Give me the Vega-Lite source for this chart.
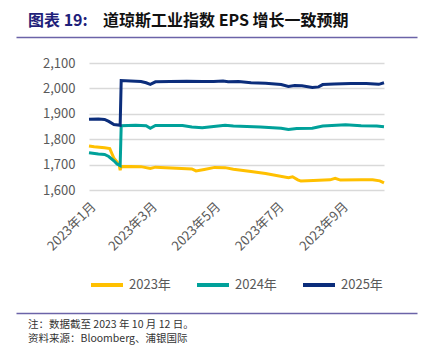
{
  "$schema": "https://vega.github.io/schema/vega-lite/v6.json",
  "padding": {"left": 28, "top": 5, "right": 5, "bottom": 0},
  "spacing": 20,
  "resolve": {"legend": {"color": "independent"}},
  "config": {
    "font": "Noto Sans CJK SC",
    "view": {"stroke": null},
    "axis": {"labelColor": "#595959", "labelFontSize": 13, "labelFont": "Noto Sans CJK SC"},
    "legend": {"labelColor": "#595959", "labelFontSize": 13, "labelFont": "Noto Sans CJK SC"}
  },
  "vconcat": [
    {
      "width": 295,
      "height": 32,
      "data": {"values": [{"x0": 0, "a": "图表 19:", "b": "道琼斯工业指数 EPS 增长一致预期"}]},
      "encoding": {
        "x": {"field": "x0", "type": "quantitative", "scale": {"domain": [0, 1], "range": [-73, 328]},
          "axis": {"orient": "bottom", "domain": true, "domainColor": "#6B63A8", "domainWidth": 1.5, "ticks": false, "labels": false, "grid": false, "title": null}}
      },
      "layer": [
        {"mark": {"type": "text", "align": "left", "baseline": "middle", "dx": 12, "fontSize": 16, "fontWeight": "bold", "color": "#1F1F7A"},
         "encoding": {"text": {"field": "a"}}},
        {"mark": {"type": "text", "align": "left", "baseline": "middle", "dx": 87, "fontSize": 16, "fontWeight": "bold", "color": "#111111"},
         "encoding": {"text": {"field": "b"}}}
      ]
    },
    {
      "width": 295,
      "height": 127,
      "data": {
        "format": {"parse": {"d": "date:'%Y-%m-%d'"}},
        "values": [
          {"d": "2023-01-01", "s": "2023年", "v": 1773},
          {"d": "2023-01-06", "s": "2023年", "v": 1770},
          {"d": "2023-01-16", "s": "2023年", "v": 1766},
          {"d": "2023-01-21", "s": "2023年", "v": 1763},
          {"d": "2023-01-25", "s": "2023年", "v": 1725},
          {"d": "2023-01-28", "s": "2023年", "v": 1710},
          {"d": "2023-01-30", "s": "2023年", "v": 1700},
          {"d": "2023-01-31", "s": "2023年", "v": 1678},
          {"d": "2023-02-01", "s": "2023年", "v": 1693},
          {"d": "2023-02-20", "s": "2023年", "v": 1692},
          {"d": "2023-03-01", "s": "2023年", "v": 1685},
          {"d": "2023-03-06", "s": "2023年", "v": 1690},
          {"d": "2023-04-10", "s": "2023年", "v": 1683},
          {"d": "2023-04-14", "s": "2023年", "v": 1675},
          {"d": "2023-04-22", "s": "2023年", "v": 1681},
          {"d": "2023-05-02", "s": "2023年", "v": 1689},
          {"d": "2023-05-12", "s": "2023年", "v": 1688},
          {"d": "2023-05-20", "s": "2023年", "v": 1682},
          {"d": "2023-06-06", "s": "2023年", "v": 1673},
          {"d": "2023-06-20", "s": "2023年", "v": 1665},
          {"d": "2023-07-12", "s": "2023年", "v": 1648},
          {"d": "2023-07-16", "s": "2023年", "v": 1652},
          {"d": "2023-07-21", "s": "2023年", "v": 1640},
          {"d": "2023-07-24", "s": "2023年", "v": 1635},
          {"d": "2023-08-05", "s": "2023年", "v": 1637},
          {"d": "2023-08-21", "s": "2023年", "v": 1640},
          {"d": "2023-08-26", "s": "2023年", "v": 1646},
          {"d": "2023-08-31", "s": "2023年", "v": 1639},
          {"d": "2023-09-20", "s": "2023年", "v": 1640},
          {"d": "2023-10-01", "s": "2023年", "v": 1640},
          {"d": "2023-10-08", "s": "2023年", "v": 1636},
          {"d": "2023-10-12", "s": "2023年", "v": 1628},

          {"d": "2023-01-01", "s": "2024年", "v": 1747},
          {"d": "2023-01-10", "s": "2024年", "v": 1742},
          {"d": "2023-01-16", "s": "2024年", "v": 1740},
          {"d": "2023-01-20", "s": "2024年", "v": 1732},
          {"d": "2023-01-25", "s": "2024年", "v": 1715},
          {"d": "2023-01-28", "s": "2024年", "v": 1702},
          {"d": "2023-01-31", "s": "2024年", "v": 1696},
          {"d": "2023-02-01", "s": "2024年", "v": 1853},
          {"d": "2023-02-15", "s": "2024年", "v": 1855},
          {"d": "2023-02-25", "s": "2024年", "v": 1853},
          {"d": "2023-03-01", "s": "2024年", "v": 1843},
          {"d": "2023-03-06", "s": "2024年", "v": 1854},
          {"d": "2023-04-01", "s": "2024年", "v": 1854},
          {"d": "2023-04-10", "s": "2024年", "v": 1848},
          {"d": "2023-04-20", "s": "2024年", "v": 1845},
          {"d": "2023-05-01", "s": "2024年", "v": 1850},
          {"d": "2023-05-12", "s": "2024年", "v": 1855},
          {"d": "2023-05-20", "s": "2024年", "v": 1852},
          {"d": "2023-06-15", "s": "2024年", "v": 1848},
          {"d": "2023-07-05", "s": "2024年", "v": 1843},
          {"d": "2023-07-12", "s": "2024年", "v": 1838},
          {"d": "2023-07-20", "s": "2024年", "v": 1842},
          {"d": "2023-08-04", "s": "2024年", "v": 1843},
          {"d": "2023-08-14", "s": "2024年", "v": 1852},
          {"d": "2023-09-05", "s": "2024年", "v": 1857},
          {"d": "2023-09-20", "s": "2024年", "v": 1853},
          {"d": "2023-10-05", "s": "2024年", "v": 1852},
          {"d": "2023-10-12", "s": "2024年", "v": 1849},

          {"d": "2023-01-01", "s": "2025年", "v": 1879},
          {"d": "2023-01-10", "s": "2025年", "v": 1880},
          {"d": "2023-01-16", "s": "2025年", "v": 1878},
          {"d": "2023-01-20", "s": "2025年", "v": 1870},
          {"d": "2023-01-25", "s": "2025年", "v": 1858},
          {"d": "2023-01-31", "s": "2025年", "v": 1855},
          {"d": "2023-02-01", "s": "2025年", "v": 2031},
          {"d": "2023-02-10", "s": "2025年", "v": 2029},
          {"d": "2023-02-20", "s": "2025年", "v": 2027},
          {"d": "2023-02-25", "s": "2025年", "v": 2022},
          {"d": "2023-03-01", "s": "2025年", "v": 2016},
          {"d": "2023-03-06", "s": "2025年", "v": 2026},
          {"d": "2023-03-20", "s": "2025年", "v": 2027},
          {"d": "2023-04-05", "s": "2025年", "v": 2028},
          {"d": "2023-04-20", "s": "2025年", "v": 2027},
          {"d": "2023-05-01", "s": "2025年", "v": 2027},
          {"d": "2023-05-10", "s": "2025年", "v": 2029},
          {"d": "2023-05-15", "s": "2025年", "v": 2026},
          {"d": "2023-05-25", "s": "2025年", "v": 2027},
          {"d": "2023-06-06", "s": "2025年", "v": 2022},
          {"d": "2023-06-20", "s": "2025年", "v": 2020},
          {"d": "2023-07-05", "s": "2025年", "v": 2015},
          {"d": "2023-07-12", "s": "2025年", "v": 2008},
          {"d": "2023-07-18", "s": "2025年", "v": 2011},
          {"d": "2023-07-25", "s": "2025年", "v": 2010},
          {"d": "2023-08-04", "s": "2025年", "v": 2004},
          {"d": "2023-08-10", "s": "2025年", "v": 2006},
          {"d": "2023-08-14", "s": "2025年", "v": 2015},
          {"d": "2023-08-25", "s": "2025年", "v": 2017},
          {"d": "2023-09-10", "s": "2025年", "v": 2019},
          {"d": "2023-09-25", "s": "2025年", "v": 2019},
          {"d": "2023-10-03", "s": "2025年", "v": 2017},
          {"d": "2023-10-07", "s": "2025年", "v": 2016},
          {"d": "2023-10-12", "s": "2025年", "v": 2022}
        ]
      },
      "mark": {"type": "line", "strokeWidth": 3},
      "encoding": {
        "x": {"field": "d", "type": "temporal",
          "scale": {"domain": [{"year": 2023, "month": 1, "date": 1}, {"year": 2023, "month": 10, "date": 12}]},
          "axis": {"values": [{"year": 2023, "month": 1, "date": 1}, {"year": 2023, "month": 3, "date": 1}, {"year": 2023, "month": 5, "date": 1}, {"year": 2023, "month": 7, "date": 1}, {"year": 2023, "month": 9, "date": 1}],
            "format": "%Y年%-m月", "labelAngle": -45, "grid": false, "domain": false, "ticks": false, "labelPadding": 10, "title": null}},
        "y": {"field": "v", "type": "quantitative",
          "scale": {"domain": [1600, 2100], "zero": false, "nice": false},
          "axis": {"values": [1600, 1700, 1800, 1900, 2000, 2100], "format": ",.0f", "grid": true, "gridColor": "#D9D9D9", "gridWidth": 1.5,
            "domain": false, "ticks": false, "labelPadding": 14, "title": null}},
        "color": {"field": "s", "type": "nominal",
          "scale": {"domain": ["2023年", "2024年", "2025年"], "range": ["#FFC000", "#00A19A", "#0B2D7B"]},
          "legend": {"orient": "bottom", "direction": "horizontal", "title": null, "symbolType": "stroke", "symbolSize": 1024, "symbolStrokeWidth": 4, "columnPadding": 18, "labelOffset": 4, "offset": 13}}
      }
    },
    {
      "width": 295,
      "height": 38,
      "data": {"values": [{"x0": 0, "i": 1, "t": "注：数据截至 2023 年 10 月 12 日。"}, {"x0": 0, "i": 2, "t": "资料来源：Bloomberg、浦银国际"}]},
      "mark": {"type": "text", "align": "left", "baseline": "middle", "dx": 12, "fontSize": 10.5, "color": "#333333"},
      "encoding": {
        "x": {"field": "x0", "type": "quantitative", "scale": {"domain": [0, 1], "range": [-73, 328]},
          "axis": {"orient": "top", "domain": true, "domainColor": "#6B63A8", "domainWidth": 1.5, "ticks": false, "labels": false, "grid": false, "title": null}},
        "y": {"field": "i", "type": "ordinal", "scale": {"padding": 0.86}, "axis": null},
        "text": {"field": "t"}
      }
    }
  ]
}
